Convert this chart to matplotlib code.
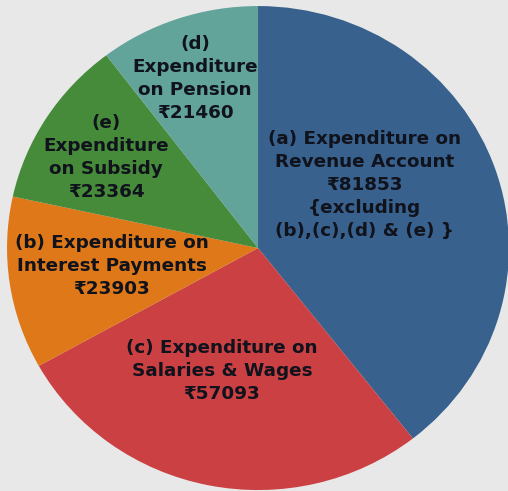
import matplotlib
matplotlib.use('Agg')
import matplotlib.pyplot as plt

# 数据
labels = ['(a) Expenditure on\nRevenue Account',
          '(c) Expenditure on\nSalaries & Wages',
          '(b) Expenditure on\nInterest Payments',
          '(e)\nExpenditure\non Subsidy',
          '(d)\nExpenditure\non Pension']
values = [81853, 57093, 23903, 23364, 21460]
notes = ['\n{excluding\n(b),(c),(d) & (e) }', '', '', '', '']

colors = ['#38618d', '#cb4043', '#df7818', '#468b3a', '#62a39a']
# 标签位置 (axes fraction)
label_pos = [(0.718, 0.623), (0.437, 0.244), (0.220, 0.458), (0.209, 0.680), (0.384, 0.841)]

plt.rcParams['font.family'] = ['DejaVu Sans', 'Noto Sans']

fig = plt.figure(figsize=(5.08, 4.91), dpi=100)
fig.patch.set_facecolor('#e8e8e8')
ax = fig.add_axes([0, 0, 1, 1])
ax.set_facecolor('#e8e8e8')

ax.pie(values, colors=colors, startangle=90, counterclock=False,
       wedgeprops=dict(linewidth=0))
ax.set_aspect('auto')
ax.set_xlim(-1.028, 0.996)
ax.set_ylim(-1.004, 1.025)
ax.axis('off')

for lab, v, n, (x, y) in zip(labels, values, notes, label_pos):
    ax.text(x, y, f'{lab}\n₹{v}{n}', transform=ax.transAxes,
            ha='center', va='center', fontsize=13.2, fontweight='bold',
            color='#10121c', linespacing=1.36)

plt.savefig('out.png', dpi=100, facecolor=fig.get_facecolor())
